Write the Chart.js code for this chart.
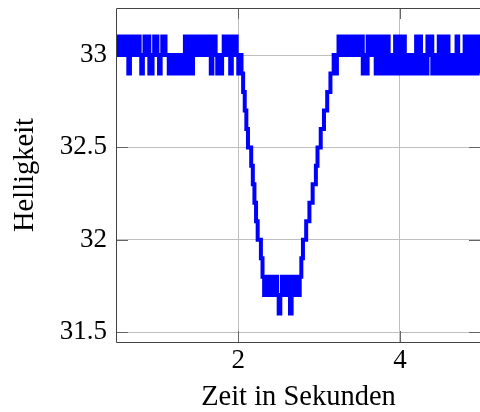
<!DOCTYPE html>
<html>
<head>
<meta charset="utf-8">
<script src="https://cdn.jsdelivr.net/npm/chart.js@4.4.1/dist/chart.umd.min.js"></script>
<style>
  html, body { margin: 0; padding: 0; background: #fff; }
  canvas { display: block; }
</style>
</head>
<body>
<canvas id="chart" width="480" height="412"></canvas>
<script>
// Messzeitpunkte in Sekunden
const zeit = [
  0.50, 0.52, 0.54, 0.56, 0.58, 0.60, 0.62, 0.64, 0.66, 0.68,
  0.70, 0.72, 0.74, 0.76, 0.78, 0.80, 0.82, 0.84, 0.86, 0.88,
  0.90, 0.92, 0.94, 0.96, 0.98, 1.00, 1.02, 1.04, 1.06, 1.08,
  1.10, 1.12, 1.14, 1.16, 1.18, 1.20, 1.22, 1.24, 1.26, 1.28,
  1.30, 1.32, 1.34, 1.36, 1.38, 1.40, 1.42, 1.44, 1.46, 1.48,
  1.50, 1.52, 1.54, 1.56, 1.58, 1.60, 1.62, 1.64, 1.66, 1.68,
  1.70, 1.72, 1.74, 1.76, 1.78, 1.80, 1.82, 1.84, 1.86, 1.88,
  1.90, 1.92, 1.94, 1.96, 1.98, 2.00, 2.02, 2.04, 2.06, 2.08,
  2.10, 2.12, 2.14, 2.16, 2.18, 2.20, 2.22, 2.24, 2.26, 2.28,
  2.30, 2.32, 2.34, 2.36, 2.38, 2.40, 2.42, 2.44, 2.46, 2.48,
  2.50, 2.52, 2.54, 2.56, 2.58, 2.60, 2.62, 2.64, 2.66, 2.68,
  2.70, 2.72, 2.74, 2.76, 2.78, 2.80, 2.82, 2.84, 2.86, 2.88,
  2.90, 2.92, 2.94, 2.96, 2.98, 3.00, 3.02, 3.04, 3.06, 3.08,
  3.10, 3.12, 3.14, 3.16, 3.18, 3.20, 3.22, 3.24, 3.26, 3.28,
  3.30, 3.32, 3.34, 3.36, 3.38, 3.40, 3.42, 3.44, 3.46, 3.48,
  3.50, 3.52, 3.54, 3.56, 3.58, 3.60, 3.62, 3.64, 3.66, 3.68,
  3.70, 3.72, 3.74, 3.76, 3.78, 3.80, 3.82, 3.84, 3.86, 3.88,
  3.90, 3.92, 3.94, 3.96, 3.98, 4.00, 4.02, 4.04, 4.06, 4.08,
  4.10, 4.12, 4.14, 4.16, 4.18, 4.20, 4.22, 4.24, 4.26, 4.28,
  4.30, 4.32, 4.34, 4.36, 4.38, 4.40, 4.42, 4.44, 4.46, 4.48,
  4.50, 4.52, 4.54, 4.56, 4.58, 4.60, 4.62, 4.64, 4.66, 4.68,
  4.70, 4.72, 4.74, 4.76, 4.78, 4.80, 4.82, 4.84, 4.86, 4.88,
  4.90, 4.92, 4.94, 4.96, 4.98, 5.00
];

// gemessene Helligkeit zu jedem Zeitpunkt
const helligkeit = [
  33.1, 33, 33.1, 33, 33.1, 33, 33.1, 32.9, 33, 33.1,
  33, 33.1, 33, 33.1, 33, 32.9, 33, 33.1, 33, 33.1,
  32.9, 32.9, 33, 33.1, 33.1, 33, 32.9, 33, 33.1, 33.1,
  33, 33, 32.9, 33, 32.9, 33, 32.9, 33, 32.9, 33,
  33, 32.9, 33.1, 32.9, 33.1, 33, 32.9, 33.1, 33, 33.1,
  33, 33.1, 33, 33.1, 33, 33.1, 33, 33.1, 32.9, 33,
  33.1, 33, 32.9, 33, 32.9, 33, 33.1, 33, 33.1, 33,
  32.9, 33.1, 33, 33.1, 33, 32.9, 33, 32.9, 32.8, 32.7,
  32.6, 32.5, 32.5, 32.4, 32.3, 32.2, 32.1, 32, 32, 31.9,
  31.8, 31.7, 31.8, 31.7, 31.8, 31.7, 31.8, 31.7, 31.8, 31.7,
  31.6, 31.7, 31.8, 31.7, 31.8, 31.7, 31.8, 31.6, 31.7, 31.8,
  31.7, 31.8, 31.7, 31.8, 31.9, 32, 32, 32.1, 32.1, 32.2,
  32.2, 32.3, 32.3, 32.4, 32.5, 32.5, 32.6, 32.6, 32.7, 32.7,
  32.8, 32.8, 32.9, 32.9, 33, 32.9, 33, 33.1, 33, 33.1,
  33, 33.1, 33, 33.1, 33, 33.1, 33, 33.1, 33, 33.1,
  33, 33.1, 32.9, 33, 32.9, 33.1, 33, 33.1, 33, 33.1,
  32.9, 33, 33.1, 32.9, 33, 33.1, 32.9, 33.1, 32.9, 33,
  32.9, 33, 33.1, 32.9, 33.1, 33, 32.9, 33.1, 33, 32.9,
  33, 32.9, 33, 32.9, 33, 33.1, 32.9, 33.1, 33, 32.9,
  33, 32.9, 33.1, 33, 33.1, 32.9, 33, 32.9, 33, 33.1,
  32.9, 33.1, 33, 32.9, 33.1, 33, 32.9, 33, 32.9, 33,
  33.1, 32.9, 33, 32.9, 33, 33.1, 32.9, 33.1, 33, 32.9,
  33.1, 33, 32.9, 33.1, 33, 32.9
];

const xTicks = [2, 4];
const yTicks = [31.5, 32, 32.5, 33];

const punkte = zeit.map((t, i) => ({ x: t, y: helligkeit[i] }));

const schrift = 'Liberation Serif';

// Striche nach innen und Achsenrahmen wie bei pgfplots
const innenTicks = {
  id: 'innenTicks',
  beforeDatasetsDraw(chart) {
    const { ctx, chartArea: a, scales } = chart;
    const len = 11;
    ctx.save();
    ctx.lineWidth = 1;
    ctx.strokeStyle = '#666';
    ctx.beginPath();
    yTicks.forEach(v => {
      const py = Math.round(scales.y.getPixelForValue(v)) + 0.5;
      ctx.moveTo(a.left, py);
      ctx.lineTo(a.left + len, py);
      ctx.moveTo(a.right - len, py);
      ctx.lineTo(a.right, py);
    });
    xTicks.forEach(v => {
      const px = Math.round(scales.x.getPixelForValue(v)) + 0.5;
      ctx.moveTo(px, a.bottom);
      ctx.lineTo(px, a.bottom - len);
      ctx.moveTo(px, a.top);
      ctx.lineTo(px, a.top + len);
    });
    ctx.stroke();

    ctx.strokeStyle = '#444';
    ctx.beginPath();
    ctx.moveTo(a.right, a.top + 0.5);
    ctx.lineTo(a.left - 0.5, a.top + 0.5);
    ctx.lineTo(a.left - 0.5, a.bottom + 0.5);
    ctx.lineTo(a.right, a.bottom + 0.5);
    ctx.stroke();
    ctx.restore();
  }
};

new Chart(document.getElementById('chart'), {
  type: 'line',
  data: {
    datasets: [{
      data: punkte,
      borderColor: '#0000ff',
      borderWidth: 4,
      pointRadius: 0,
      fill: false,
      stepped: true,
      clip: 0
    }]
  },
  options: {
    responsive: false,
    animation: false,
    events: [],
    layout: { padding: { top: 8, left: 0, right: 0, bottom: 0 }, autoPadding: false },
    plugins: {
      legend: { display: false },
      tooltip: { enabled: false }
    },
    scales: {
      x: {
        type: 'linear',
        min: 0.5,
        max: 4.99,
        afterBuildTicks: s => { s.ticks = xTicks.map(v => ({ value: v })); },
        afterFit: s => { s.height = 70; s.paddingLeft = 0; s.paddingRight = 0; },
        grid: { color: '#bfbfbf', lineWidth: 1, drawTicks: false },
        border: { display: false },
        ticks: {
          padding: 3,
          color: '#000',
          font: { family: schrift, size: 27 },
          callback: v => String(v)
        },
        title: {
          display: true,
          text: 'Zeit in Sekunden',
          color: '#000',
          font: { family: schrift, size: 28.5, lineHeight: 1 },
          padding: { top: 0, bottom: 0.5 }
        }
      },
      y: {
        min: 31.446,
        max: 33.255,
        afterBuildTicks: s => { s.ticks = yTicks.map(v => ({ value: v })); },
        afterFit: s => { s.width = 117; s.paddingTop = 0; s.paddingBottom = 0; },
        grid: { color: '#bfbfbf', lineWidth: 1, drawTicks: false },
        border: { display: false },
        ticks: {
          padding: 10,
          color: '#000',
          font: { family: schrift, size: 27 },
          callback: v => String(v)
        },
        title: {
          display: true,
          text: 'Helligkeit',
          color: '#000',
          font: { family: schrift, size: 28.5 },
          padding: { top: 8, bottom: 0 }
        }
      }
    }
  },
  plugins: [innenTicks]
});
</script>
</body>
</html>
